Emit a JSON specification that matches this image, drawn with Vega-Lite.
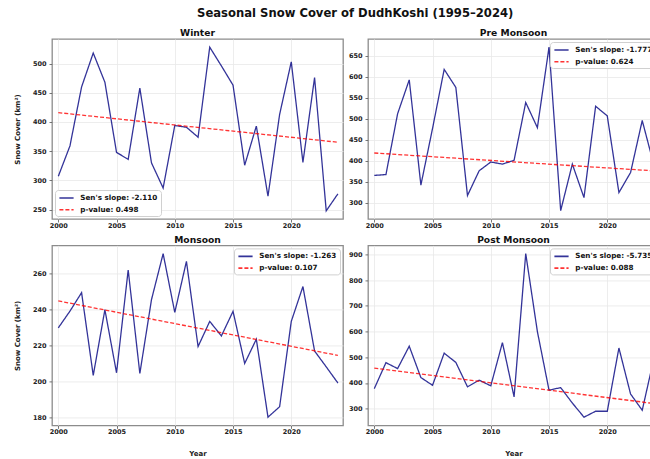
{
  "$schema": "https://vega.github.io/schema/vega-lite/v6.json",
  "padding": {"left": 12, "top": 8, "right": 0, "bottom": 0},
  "title": {
    "text": "Seasonal Snow Cover of DudhKoshi (1995–2024)",
    "fontSize": 11.6,
    "fontWeight": "bold",
    "font": "DejaVu Sans",
    "color": "#111",
    "anchor": "middle",
    "dx": 19,
    "offset": 9
  },
  "datasets": {
    "snow": [
      {"season": "Winter", "kind": "observed", "year": 2000, "cover": 307},
      {"season": "Winter", "kind": "observed", "year": 2001, "cover": 359},
      {"season": "Winter", "kind": "observed", "year": 2002, "cover": 460},
      {"season": "Winter", "kind": "observed", "year": 2003, "cover": 518},
      {"season": "Winter", "kind": "observed", "year": 2004, "cover": 468},
      {"season": "Winter", "kind": "observed", "year": 2005, "cover": 348},
      {"season": "Winter", "kind": "observed", "year": 2006, "cover": 336},
      {"season": "Winter", "kind": "observed", "year": 2007, "cover": 458},
      {"season": "Winter", "kind": "observed", "year": 2008, "cover": 330},
      {"season": "Winter", "kind": "observed", "year": 2009, "cover": 287},
      {"season": "Winter", "kind": "observed", "year": 2010, "cover": 394},
      {"season": "Winter", "kind": "observed", "year": 2011, "cover": 391},
      {"season": "Winter", "kind": "observed", "year": 2012, "cover": 374},
      {"season": "Winter", "kind": "observed", "year": 2013, "cover": 528},
      {"season": "Winter", "kind": "observed", "year": 2014, "cover": 496},
      {"season": "Winter", "kind": "observed", "year": 2015, "cover": 463},
      {"season": "Winter", "kind": "observed", "year": 2016, "cover": 326},
      {"season": "Winter", "kind": "observed", "year": 2017, "cover": 393},
      {"season": "Winter", "kind": "observed", "year": 2018, "cover": 273},
      {"season": "Winter", "kind": "observed", "year": 2019, "cover": 413},
      {"season": "Winter", "kind": "observed", "year": 2020, "cover": 503},
      {"season": "Winter", "kind": "observed", "year": 2021, "cover": 331},
      {"season": "Winter", "kind": "observed", "year": 2022, "cover": 476},
      {"season": "Winter", "kind": "observed", "year": 2023, "cover": 248},
      {"season": "Winter", "kind": "observed", "year": 2024, "cover": 277},
      {"season": "Winter", "kind": "trend", "year": 2000, "cover": 416},
      {"season": "Winter", "kind": "trend", "year": 2024, "cover": 365.36},

      {"season": "Pre Monsoon", "kind": "observed", "year": 2000, "cover": 365},
      {"season": "Pre Monsoon", "kind": "observed", "year": 2001, "cover": 367},
      {"season": "Pre Monsoon", "kind": "observed", "year": 2002, "cover": 512},
      {"season": "Pre Monsoon", "kind": "observed", "year": 2003, "cover": 593},
      {"season": "Pre Monsoon", "kind": "observed", "year": 2004, "cover": 342},
      {"season": "Pre Monsoon", "kind": "observed", "year": 2005, "cover": 477},
      {"season": "Pre Monsoon", "kind": "observed", "year": 2006, "cover": 618},
      {"season": "Pre Monsoon", "kind": "observed", "year": 2007, "cover": 575},
      {"season": "Pre Monsoon", "kind": "observed", "year": 2008, "cover": 317},
      {"season": "Pre Monsoon", "kind": "observed", "year": 2009, "cover": 376},
      {"season": "Pre Monsoon", "kind": "observed", "year": 2010, "cover": 397},
      {"season": "Pre Monsoon", "kind": "observed", "year": 2011, "cover": 392},
      {"season": "Pre Monsoon", "kind": "observed", "year": 2012, "cover": 401},
      {"season": "Pre Monsoon", "kind": "observed", "year": 2013, "cover": 539},
      {"season": "Pre Monsoon", "kind": "observed", "year": 2014, "cover": 479},
      {"season": "Pre Monsoon", "kind": "observed", "year": 2015, "cover": 671},
      {"season": "Pre Monsoon", "kind": "observed", "year": 2016, "cover": 281},
      {"season": "Pre Monsoon", "kind": "observed", "year": 2017, "cover": 392},
      {"season": "Pre Monsoon", "kind": "observed", "year": 2018, "cover": 312},
      {"season": "Pre Monsoon", "kind": "observed", "year": 2019, "cover": 530},
      {"season": "Pre Monsoon", "kind": "observed", "year": 2020, "cover": 507},
      {"season": "Pre Monsoon", "kind": "observed", "year": 2021, "cover": 324},
      {"season": "Pre Monsoon", "kind": "observed", "year": 2022, "cover": 372},
      {"season": "Pre Monsoon", "kind": "observed", "year": 2023, "cover": 496},
      {"season": "Pre Monsoon", "kind": "observed", "year": 2024, "cover": 390},
      {"season": "Pre Monsoon", "kind": "trend", "year": 2000, "cover": 418.5},
      {"season": "Pre Monsoon", "kind": "trend", "year": 2024, "cover": 375.85},

      {"season": "Monsoon", "kind": "observed", "year": 2000, "cover": 229.7},
      {"season": "Monsoon", "kind": "observed", "year": 2001, "cover": 239},
      {"season": "Monsoon", "kind": "observed", "year": 2002, "cover": 249.3},
      {"season": "Monsoon", "kind": "observed", "year": 2003, "cover": 203.2},
      {"season": "Monsoon", "kind": "observed", "year": 2004, "cover": 239.8},
      {"season": "Monsoon", "kind": "observed", "year": 2005, "cover": 204.7},
      {"season": "Monsoon", "kind": "observed", "year": 2006, "cover": 261.9},
      {"season": "Monsoon", "kind": "observed", "year": 2007, "cover": 204.3},
      {"season": "Monsoon", "kind": "observed", "year": 2008, "cover": 245.4},
      {"season": "Monsoon", "kind": "observed", "year": 2009, "cover": 271},
      {"season": "Monsoon", "kind": "observed", "year": 2010, "cover": 238.3},
      {"season": "Monsoon", "kind": "observed", "year": 2011, "cover": 266.7},
      {"season": "Monsoon", "kind": "observed", "year": 2012, "cover": 219.3},
      {"season": "Monsoon", "kind": "observed", "year": 2013, "cover": 233.3},
      {"season": "Monsoon", "kind": "observed", "year": 2014, "cover": 225.2},
      {"season": "Monsoon", "kind": "observed", "year": 2015, "cover": 238.9},
      {"season": "Monsoon", "kind": "observed", "year": 2016, "cover": 209.9},
      {"season": "Monsoon", "kind": "observed", "year": 2017, "cover": 223.4},
      {"season": "Monsoon", "kind": "observed", "year": 2018, "cover": 180},
      {"season": "Monsoon", "kind": "observed", "year": 2019, "cover": 185.8},
      {"season": "Monsoon", "kind": "observed", "year": 2020, "cover": 233.3},
      {"season": "Monsoon", "kind": "observed", "year": 2021, "cover": 252.7},
      {"season": "Monsoon", "kind": "observed", "year": 2022, "cover": 216.8},
      {"season": "Monsoon", "kind": "observed", "year": 2023, "cover": 208},
      {"season": "Monsoon", "kind": "observed", "year": 2024, "cover": 199},
      {"season": "Monsoon", "kind": "trend", "year": 2000, "cover": 244.7},
      {"season": "Monsoon", "kind": "trend", "year": 2024, "cover": 214.39},

      {"season": "Post Monsoon", "kind": "observed", "year": 2000, "cover": 378},
      {"season": "Post Monsoon", "kind": "observed", "year": 2001, "cover": 479},
      {"season": "Post Monsoon", "kind": "observed", "year": 2002, "cover": 456},
      {"season": "Post Monsoon", "kind": "observed", "year": 2003, "cover": 543},
      {"season": "Post Monsoon", "kind": "observed", "year": 2004, "cover": 421},
      {"season": "Post Monsoon", "kind": "observed", "year": 2005, "cover": 391},
      {"season": "Post Monsoon", "kind": "observed", "year": 2006, "cover": 516},
      {"season": "Post Monsoon", "kind": "observed", "year": 2007, "cover": 480},
      {"season": "Post Monsoon", "kind": "observed", "year": 2008, "cover": 385},
      {"season": "Post Monsoon", "kind": "observed", "year": 2009, "cover": 411},
      {"season": "Post Monsoon", "kind": "observed", "year": 2010, "cover": 389},
      {"season": "Post Monsoon", "kind": "observed", "year": 2011, "cover": 557},
      {"season": "Post Monsoon", "kind": "observed", "year": 2012, "cover": 346},
      {"season": "Post Monsoon", "kind": "observed", "year": 2013, "cover": 903},
      {"season": "Post Monsoon", "kind": "observed", "year": 2014, "cover": 600},
      {"season": "Post Monsoon", "kind": "observed", "year": 2015, "cover": 372},
      {"season": "Post Monsoon", "kind": "observed", "year": 2016, "cover": 382},
      {"season": "Post Monsoon", "kind": "observed", "year": 2017, "cover": 322},
      {"season": "Post Monsoon", "kind": "observed", "year": 2018, "cover": 267},
      {"season": "Post Monsoon", "kind": "observed", "year": 2019, "cover": 290},
      {"season": "Post Monsoon", "kind": "observed", "year": 2020, "cover": 290},
      {"season": "Post Monsoon", "kind": "observed", "year": 2021, "cover": 536},
      {"season": "Post Monsoon", "kind": "observed", "year": 2022, "cover": 357},
      {"season": "Post Monsoon", "kind": "observed", "year": 2023, "cover": 294},
      {"season": "Post Monsoon", "kind": "observed", "year": 2024, "cover": 495},
      {"season": "Post Monsoon", "kind": "trend", "year": 2000, "cover": 457.8},
      {"season": "Post Monsoon", "kind": "trend", "year": 2024, "cover": 320.16}
    ]
  },
  "columns": 2,
  "spacing": {"column": 25, "row": 26.4},
  "bounds": "flush",
  "concat": [
    {
      "data": {"name": "snow"},
      "transform": [{"filter": "datum.season === 'Winter'"}],
      "width": 291,
      "height": 180,
      "title": {"text": "Winter"},
      "mark": {"type": "line", "strokeWidth": 1.3, "opacity": 0.8, "clip": true},
      "encoding": {
        "x": {"field": "year", "type": "quantitative",
              "scale": {"domain": [1999.46, 2024.44], "nice": false, "zero": false},
              "axis": {"values": [2000, 2005, 2010, 2015, 2020], "format": "d", "title": null}},
        "y": {"field": "cover", "type": "quantitative",
              "scale": {"domain": [234, 542], "nice": false, "zero": false},
              "axis": {"values": [250, 300, 350, 400, 450, 500], "title": "Snow Cover (km²)"}},
        "color": {"field": "kind", "type": "nominal",
                  "scale": {"domain": ["observed", "trend"], "range": ["#000080", "#ff0000"]},
                  "legend": {"orient": "bottom-left", "title": null,
                             "labelExpr": "datum.label === 'observed' ? \"Sen's slope: -2.110\" : 'p-value: 0.498'"}},
        "strokeDash": {"field": "kind", "type": "nominal",
                       "scale": {"domain": ["observed", "trend"], "range": [[1, 0], [4, 2]]},
                       "legend": {"orient": "bottom-left", "title": null,
                                  "labelExpr": "datum.label === 'observed' ? \"Sen's slope: -2.110\" : 'p-value: 0.498'"}}
      }
    },
    {
      "data": {"name": "snow"},
      "transform": [{"filter": "datum.season === 'Pre Monsoon'"}],
      "width": 291,
      "height": 180,
      "title": {"text": "Pre Monsoon"},
      "mark": {"type": "line", "strokeWidth": 1.3, "opacity": 0.8, "clip": true},
      "encoding": {
        "x": {"field": "year", "type": "quantitative",
              "scale": {"domain": [1999.46, 2024.44], "nice": false, "zero": false},
              "axis": {"values": [2000, 2005, 2010, 2015, 2020], "format": "d", "title": null}},
        "y": {"field": "cover", "type": "quantitative",
              "scale": {"domain": [261, 690.5], "nice": false, "zero": false},
              "axis": {"values": [300, 350, 400, 450, 500, 550, 600, 650], "title": null}},
        "color": {"field": "kind", "type": "nominal",
                  "scale": {"domain": ["observed", "trend"], "range": ["#000080", "#ff0000"]},
                  "legend": {"orient": "top-right", "title": null,
                             "labelExpr": "datum.label === 'observed' ? \"Sen's slope: -1.777\" : 'p-value: 0.624'"}},
        "strokeDash": {"field": "kind", "type": "nominal",
                       "scale": {"domain": ["observed", "trend"], "range": [[1, 0], [4, 2]]},
                       "legend": {"orient": "top-right", "title": null,
                                  "labelExpr": "datum.label === 'observed' ? \"Sen's slope: -1.777\" : 'p-value: 0.624'"}}
      }
    },
    {
      "data": {"name": "snow"},
      "transform": [{"filter": "datum.season === 'Monsoon'"}],
      "width": 291,
      "height": 180,
      "title": {"text": "Monsoon"},
      "mark": {"type": "line", "strokeWidth": 1.3, "opacity": 0.8, "clip": true},
      "encoding": {
        "x": {"field": "year", "type": "quantitative",
              "scale": {"domain": [1999.46, 2024.44], "nice": false, "zero": false},
              "axis": {"values": [2000, 2005, 2010, 2015, 2020], "format": "d", "title": "Year"}},
        "y": {"field": "cover", "type": "quantitative",
              "scale": {"domain": [175.4, 275.6], "nice": false, "zero": false},
              "axis": {"values": [180, 200, 220, 240, 260], "title": "Snow Cover (km²)"}},
        "color": {"field": "kind", "type": "nominal",
                  "scale": {"domain": ["observed", "trend"], "range": ["#000080", "#ff0000"]},
                  "legend": {"orient": "top-right", "title": null,
                             "labelExpr": "datum.label === 'observed' ? \"Sen's slope: -1.263\" : 'p-value: 0.107'"}},
        "strokeDash": {"field": "kind", "type": "nominal",
                       "scale": {"domain": ["observed", "trend"], "range": [[1, 0], [4, 2]]},
                       "legend": {"orient": "top-right", "title": null,
                                  "labelExpr": "datum.label === 'observed' ? \"Sen's slope: -1.263\" : 'p-value: 0.107'"}}
      }
    },
    {
      "data": {"name": "snow"},
      "transform": [{"filter": "datum.season === 'Post Monsoon'"}],
      "width": 291,
      "height": 180,
      "title": {"text": "Post Monsoon"},
      "mark": {"type": "line", "strokeWidth": 1.3, "opacity": 0.8, "clip": true},
      "encoding": {
        "x": {"field": "year", "type": "quantitative",
              "scale": {"domain": [1999.46, 2024.44], "nice": false, "zero": false},
              "axis": {"values": [2000, 2005, 2010, 2015, 2020], "format": "d", "title": "Year"}},
        "y": {"field": "cover", "type": "quantitative",
              "scale": {"domain": [235, 935], "nice": false, "zero": false},
              "axis": {"values": [300, 400, 500, 600, 700, 800, 900], "title": null}},
        "color": {"field": "kind", "type": "nominal",
                  "scale": {"domain": ["observed", "trend"], "range": ["#000080", "#ff0000"]},
                  "legend": {"orient": "top-right", "title": null,
                             "labelExpr": "datum.label === 'observed' ? \"Sen's slope: -5.735\" : 'p-value: 0.088'"}},
        "strokeDash": {"field": "kind", "type": "nominal",
                       "scale": {"domain": ["observed", "trend"], "range": [[1, 0], [4, 2]]},
                       "legend": {"orient": "top-right", "title": null,
                                  "labelExpr": "datum.label === 'observed' ? \"Sen's slope: -5.735\" : 'p-value: 0.088'"}}
      }
    }
  ],
  "resolve": {
    "scale": {"x": "independent", "y": "independent", "color": "independent", "strokeDash": "independent"},
    "axis": {"x": "independent", "y": "independent"},
    "legend": {"color": "independent", "strokeDash": "independent"}
  },
  "config": {
    "font": "DejaVu Sans",
    "view": {"stroke": "#8c8c8c", "strokeWidth": 1.3},
    "title": {"fontSize": 9.2, "fontWeight": "bold", "color": "#111", "offset": 0.5, "font": "DejaVu Sans"},
    "axis": {
      "labelFont": "DejaVu Sans", "labelFontWeight": "bold", "labelFontSize": 6.5, "labelColor": "#222",
      "labelFlush": false,
      "titleFont": "DejaVu Sans", "titleFontWeight": "bold", "titleFontSize": 7, "titleColor": "#222",
      "domain": false, "tickColor": "#555", "tickSize": 3, "tickWidth": 0.8,
      "grid": true, "gridColor": "#e8e8e8", "gridWidth": 0.8
    },
    "axisX": {"titlePadding": 14, "labelPadding": 0.5},
    "axisY": {"titlePadding": 12, "labelPadding": 3},
    "legend": {
      "fillColor": "white", "strokeColor": "#d0d0d0", "cornerRadius": 3, "padding": 3,
      "symbolType": "M-0.9,0H2.65", "symbolSize": 64, "symbolStrokeWidth": 1.6,
      "labelFont": "DejaVu Sans", "labelFontWeight": "bold", "labelFontSize": 7.2, "labelColor": "#111",
      "labelOffset": 12.3, "rowPadding": 2.7, "offset": 3
    }
  }
}
